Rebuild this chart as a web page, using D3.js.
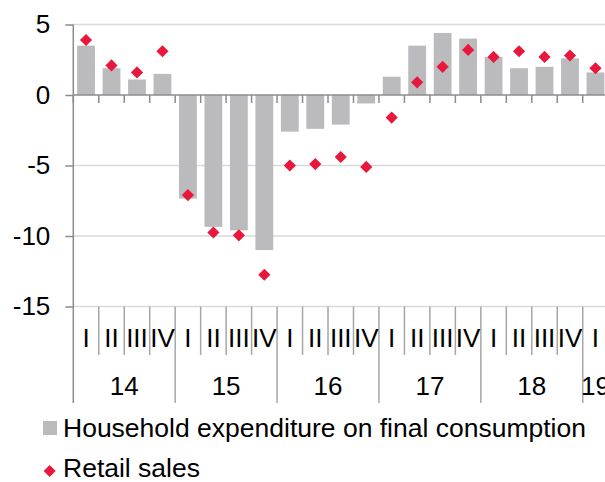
<!DOCTYPE html>
<html><head><meta charset="utf-8">
<script src="https://cdn.jsdelivr.net/npm/d3@7"></script>
<style>html,body{margin:0;padding:0;background:#fff;overflow:hidden}svg{display:block}text{font-family:"Liberation Sans",Arial,sans-serif;fill:#000}</style>
</head><body>
<script>
const years = ["14","15","16","17","18","19"];
const quarters = ["I","II","III","IV"];
const categories = ["14Q1","14Q2","14Q3","14Q4","15Q1","15Q2","15Q3","15Q4","16Q1","16Q2","16Q3","16Q4","17Q1","17Q2","17Q3","17Q4","18Q1","18Q2","18Q3","18Q4","19Q1"];
const household = [3.5,1.9,1.1,1.5,-7.35,-9.35,-9.6,-11.0,-2.6,-2.4,-2.1,-0.6,1.3,3.5,4.4,4.0,2.7,1.9,2.0,2.6,1.6];
const retail = [3.9,2.1,1.6,3.1,-7.1,-9.75,-9.95,-12.75,-5.0,-4.9,-4.4,-5.1,-1.6,0.9,2.0,3.2,2.7,3.1,2.7,2.8,1.9];
const yTicks = [5,0,-5,-10,-15];
const legendLabels = ["Household expenditure on final consumption","Retail sales"];

const W = 605, H = 482;
const svg = d3.select("body").append("svg").attr("width", W).attr("height", H);

const y = d3.scaleLinear().domain([-15,5]).range([306.5,24.5]);
const x = d3.scaleBand().domain(categories).range([73.3, 608.2]).paddingInner(0.3).paddingOuter(0.15);
const step = x.step();
const x0 = 73.3;

// gridlines
svg.append("g").selectAll("line").data(yTicks.filter(d=>d!==0)).join("line")
  .attr("x1", x0).attr("x2", W).attr("y1", d=>y(d)).attr("y2", d=>y(d))
  .attr("stroke", "#d9d9d9").attr("stroke-width", 1.5);

// bars
svg.append("g").selectAll("rect").data(categories).join("rect")
  .attr("x", d=>x(d)).attr("width", x.bandwidth())
  .attr("y", (d,i)=>y(Math.max(0,household[i])))
  .attr("height", (d,i)=>Math.abs(y(household[i])-y(0)))
  .attr("fill", "#bbbbbd");

// zero line + ticks
svg.append("line").attr("x1", x0).attr("x2", W).attr("y1", y(0)).attr("y2", y(0))
  .attr("stroke", "#8c8c8c").attr("stroke-width", 1.5);
svg.append("g").selectAll("line").data(d3.range(categories.length+1)).join("line")
  .attr("x1", i=>x0+i*step).attr("x2", i=>x0+i*step)
  .attr("y1", y(0)).attr("y2", y(0)+8)
  .attr("stroke", "#8c8c8c").attr("stroke-width", 1.5);

// y axis
const yAxis = d3.axisLeft(y).tickValues(yTicks).tickSize(8).tickPadding(15).tickFormat(d=>d);
const ga = svg.append("g").attr("transform", `translate(${x0},0)`).call(yAxis);
ga.select(".domain").remove();
ga.selectAll(".tick line").attr("stroke", "#8c8c8c").attr("stroke-width", 1.5);
ga.selectAll(".tick text").attr("font-size", 26).attr("font-family", "Liberation Sans, Arial, sans-serif").attr("fill", "#000");
svg.append("line").attr("x1", x0).attr("x2", x0).attr("y1", y(5)).attr("y2", 403)
  .attr("stroke", "#8c8c8c").attr("stroke-width", 1.5);

// category separators below plot
svg.append("g").selectAll("line").data(d3.range(1, categories.length+1)).join("line")
  .attr("x1", i=>x0+i*step).attr("x2", i=>x0+i*step)
  .attr("y1", y(-15)).attr("y2", i=> i%4===0 ? 403 : 355)
  .attr("stroke", "#a6a6a6").attr("stroke-width", 1.5);

// quarter labels
svg.append("g").selectAll("text").data(categories).join("text")
  .attr("x", d=>x(d)+x.bandwidth()/2).attr("y", 347)
  .attr("text-anchor","middle").attr("font-size", 26)
  .text((d,i)=>quarters[i%4]);

// year labels (centred on the quarters each year has)
svg.append("g").selectAll("text").data(years).join("text")
  .attr("x", d=>{
    const cs = categories.filter(c=>c.startsWith(d));
    const a = x(cs[0]) - x.paddingInner()*step/2, b = x(cs[cs.length-1]) + x.bandwidth() + x.paddingInner()*step/2;
    return (a+b)/2;
  }).attr("y", 395)
  .attr("text-anchor","middle").attr("font-size", 26)
  .text(d=>d);

// diamonds
const diamond = d3.symbol(d3.symbolSquare, 74);
svg.append("g").selectAll("path").data(categories).join("path")
  .attr("d", diamond)
  .attr("transform", (d,i)=>`translate(${x(d)+x.bandwidth()/2},${y(retail[i])}) rotate(45)`)
  .attr("fill", "#e8173b");

// legend
const lg = svg.append("g");
lg.append("rect").attr("x", 43).attr("y", 421).attr("width", 14).attr("height", 14).attr("fill", "#bbbbbd");
lg.append("text").attr("x", 63).attr("y", 437).attr("font-size", 26.5).text(legendLabels[0]);
lg.append("path").attr("d", d3.symbol(d3.symbolSquare, 72)).attr("transform","translate(49.7,471) rotate(45)").attr("fill","#e8173b");
lg.append("text").attr("x", 63).attr("y", 477).attr("font-size", 26.5).text(legendLabels[1]);
</script>
</body></html>
